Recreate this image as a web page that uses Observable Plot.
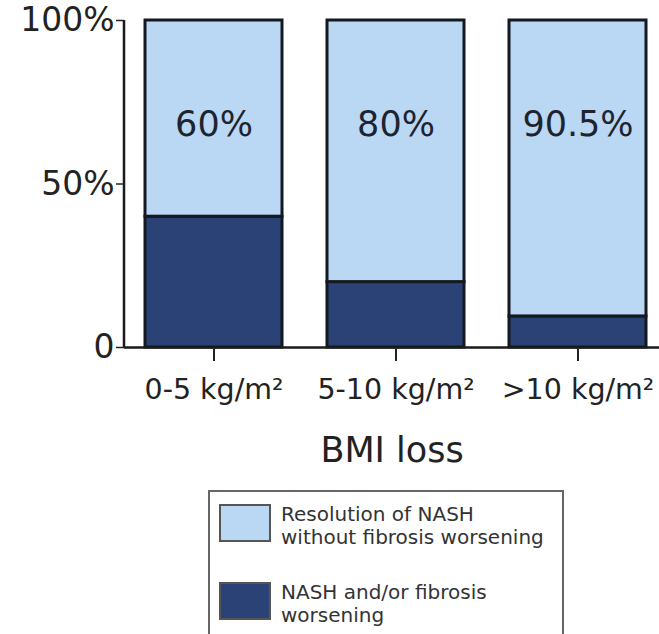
<!DOCTYPE html>
<html>
<head>
<meta charset="utf-8">
<script src="https://cdn.jsdelivr.net/npm/d3@7"></script>
<script src="https://cdn.jsdelivr.net/npm/@observablehq/plot@0.6"></script>
<style>
  html, body { margin: 0; padding: 0; background: #fff; }
  body { width: 659px; height: 634px; overflow: hidden; font-family: "DejaVu Sans", sans-serif; color: #222; }
  #chart svg { display: block; }
  .legend {
    margin-left: 208px;
    margin-top: 10px;
    width: 356px;
    height: 170px;
    border: 2px solid #666;
    box-sizing: border-box;
    padding: 11px 0 0 9px;
  }
  .legend .item { display: flex; align-items: flex-start; }
  .legend .item + .item { margin-top: 32px; }
  .legend .swatch { width: 48px; height: 34px; border: 2px solid #555; flex: none; margin-top: 1px; }
  .legend .label { margin-left: 10px; font-size: 20px; line-height: 23px; color: #333; }
</style>
</head>
<body>
<div id="chart"></div>
<div class="legend" id="legend"></div>
<script>
// BMI-loss groups and outcome shares (%)
const groups = ["0-5 kg/m²", "5-10 kg/m²", ">10 kg/m²"];
const worsening = [40, 20, 9.5];
const resolution = [60, 80, 90.5];
const outcomes = [
  "NASH and/or fibrosis worsening",
  "Resolution of NASH without fibrosis worsening"
];
const outcomeLines = [
  ["NASH and/or fibrosis", "worsening"],
  ["Resolution of NASH", "without fibrosis worsening"]
];
const outcomeColors = ["#2a4275", "#bad7f4"];
const yTicks = [0, 50, 100];
const yTickLabels = ["0", "50%", "100%"];

// long table: worsening first so it stacks at the bottom
const rows = [
  ...groups.map((g, i) => ({group: g, outcome: outcomes[0], value: worsening[i]})),
  ...groups.map((g, i) => ({group: g, outcome: outcomes[1], value: resolution[i]}))
];
const labels = groups.map((g, i) => ({group: g, value: resolution[i]}));

const fmt = v => `${v}%`;

const chart = Plot.plot({
  width: 659,
  height: 480,
  marginTop: 20,
  marginBottom: 133,
  marginLeft: 124,
  marginRight: 0,
  style: {fontFamily: "DejaVu Sans, sans-serif", color: "#222", background: "#fff"},
  x: {domain: groups, range: [122, 668], paddingInner: 0.25, paddingOuter: 0.125},
  y: {domain: [0, 100]},
  color: {domain: outcomes, range: outcomeColors},
  marks: [
    Plot.barY(rows, {
      x: "group", y: "value", fill: "outcome",
      stroke: "#141820", strokeWidth: 3
    }),
    Plot.text(labels, {
      x: "group", y: () => 68, text: d => fmt(d.value),
      fontSize: 35, fill: "#1d2430"
    }),
    // axis lines
    Plot.ruleY([0], {stroke: "#1a1a1a", strokeWidth: 2.5}),
    (index, scales, values, dimensions) => {
      const line = document.createElementNS("http://www.w3.org/2000/svg", "line");
      const x = dimensions.marginLeft;
      line.setAttribute("x1", x);
      line.setAttribute("x2", x);
      line.setAttribute("y1", scales.y(100));
      line.setAttribute("y2", scales.y(0) + 1);
      line.setAttribute("stroke", "#1a1a1a");
      line.setAttribute("stroke-width", 2.5);
      return line;
    },
    Plot.axisY({
      ticks: yTicks,
      tickFormat: d => yTickLabels[yTicks.indexOf(d)],
      tickSize: 8, tickPadding: 2, strokeWidth: 1.5,
      fontSize: 33, label: null, fill: "#222"
    }),
    Plot.axisX({
      tickSize: 14, tickPadding: 17, strokeWidth: 2,
      fontSize: 28.5, label: null, fill: "#222"
    }),
    Plot.text(["BMI loss"], {
      frameAnchor: "bottom", dy: 114, fontSize: 35, fill: "#222"
    })
  ]
});
document.getElementById("chart").append(chart);

// legend drawn from the same outcome arrays, light entry first
const legend = document.getElementById("legend");
[1, 0].forEach(i => {
  const item = document.createElement("div");
  item.className = "item";
  const sw = document.createElement("div");
  sw.className = "swatch";
  sw.style.background = outcomeColors[i];
  const lab = document.createElement("div");
  lab.className = "label";
  lab.innerHTML = outcomeLines[i].join("<br>");
  item.append(sw, lab);
  legend.append(item);
});
</script>
</body>
</html>
